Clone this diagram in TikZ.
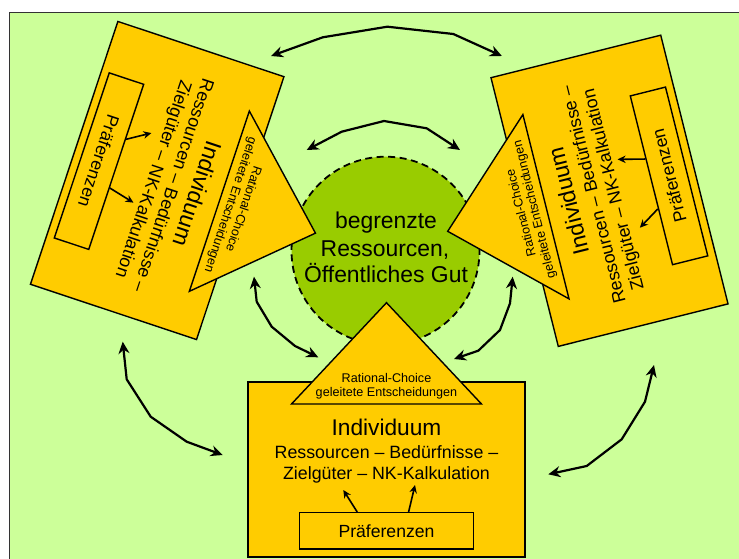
\documentclass[tikz,border=0pt]{standalone}
\usepackage{fontspec}
\setmainfont{Liberation Sans}
\usetikzlibrary{arrows.meta,calc}

\definecolor{bggreen}{HTML}{CCFF99}
\definecolor{unitfill}{HTML}{FFCC00}
\definecolor{resfill}{HTML}{99CC00}
\definecolor{frame}{HTML}{333333}

\tikzset{
  unitbox/.style={draw, fill=unitfill, line width=1.4pt, minimum width=277pt,
    minimum height=175pt, inner sep=0pt},
  unitshape/.style={draw, fill=unitfill, line width=1.4pt, line join=miter},
  prefbox/.style={draw, fill=unitfill, line width=1.4pt, minimum width=174pt,
    minimum height=36.3pt, inner sep=0pt, font=\fontsize{17.6}{20}\selectfont},
  rcfont/.style={inner sep=0pt, font=\fontsize{12.6}{14}\selectfont},
  titlefont/.style={inner sep=0pt, font=\fontsize{22.7}{26}\selectfont},
  bodyfont/.style={inner sep=0pt, font=\fontsize{17.8}{21}\selectfont},
  innerarrow/.style={-{Stealth[length=8pt,width=7.5pt]}, line width=1.6pt},
  linkarrow/.style={{Stealth[length=12pt,width=11pt]}-{Stealth[length=12pt,width=11pt]},
    line width=2.2pt, line join=round},
  resource/.style={circle, draw, fill=resfill, minimum size=188pt, inner sep=0pt,
    line width=1.8pt, dash pattern=on 7pt off 4.5pt},
  restext/.style={inner sep=0pt, font=\fontsize{22.9}{27}\selectfont},
}

% One actor: box with its decision triangle, placed at (#2,#3) and turned by #4
\newcommand\drawunit[4]{%
  \begin{scope}[shift={(#2,#3)}, rotate=#4, transform shape]
    \node[unitbox] (#1-box) at (0,0) {};
    \filldraw[unitshape] (-95,65.5) coordinate (#1-bl) -- (0,166.8) coordinate (#1-apex)
      -- (95,65.5) coordinate (#1-br) -- cycle;
    \node[rcfont, anchor=base] (#1-rc1) at (0,87.2) {Rational-Choice};
    \node[rcfont, anchor=base] (#1-rc2) at (0,73.5) {geleitete Entscheidungen};
    \node[titlefont, anchor=base] (#1-title) at (0,34.5) {Individuum};
    \node[bodyfont, anchor=base] (#1-l1) at (0,11.2) {Ressourcen – Bedürfnisse –};
    \node[bodyfont, anchor=base] (#1-l2) at (0,-9.5) {Zielgüter – NK-Kalkulation};
    \node[prefbox] (#1-pref) at (0,-61.35) {Präferenzen};
    \coordinate (#1-t1) at (-43.2,-20.5);
    \coordinate (#1-t2) at (28.5,-15.5);
    \draw[innerarrow] ($(#1-pref.north west)!0.333!(#1-pref.north east)$) -- (#1-t1);
    \draw[innerarrow] ($(#1-pref.north west)!0.626!(#1-pref.north east)$) -- (#1-t2);
  \end{scope}}

\begin{document}
\begin{tikzpicture}[x=1pt, y=1pt]
  \useasboundingbox (0,0) rectangle (739,558);
  \clip (0,0) rectangle (739,558);
  \fill[white] (0,0) rectangle (739,558);
  \filldraw[fill=bggreen, draw=frame, line width=1pt] (9.5,545.7) rectangle (760,-20);

  % shared resource
  \node[resource] (res) at (385.5,307.3) {};
  \node[restext, anchor=base] (res1) at (386,329.7) {begrenzte};
  \node[restext, anchor=base] (res2) at (385,302) {Ressourcen,};
  \node[restext, anchor=base] (res3) at (386,275.3) {Öffentliches Gut};

  % the three actors
  \drawunit{left}{157.2}{377.5}{-108.4}
  \drawunit{right}{609.5}{367.2}{104.06}
  \drawunit{bottom}{386.5}{88.5}{0}

  % interactions between actors
  \coordinate (a1s) at (271,502);     \coordinate (a1e) at (501.9,502);
  \coordinate (a2s) at (306.7,408);   \coordinate (a2e) at (460,408);
  \coordinate (a3s) at (254,281.3);   \coordinate (a3e) at (318.3,200.7);
  \coordinate (a4s) at (512.7,281.3); \coordinate (a4e) at (454,199);
  \coordinate (a5s) at (122.7,216.3); \coordinate (a5e) at (222.7,103);
  \coordinate (a6s) at (654,193);     \coordinate (a6e) at (548.3,83.7);

  \draw[linkarrow] (a1s) -- (322.8,520.7) -- (387.4,531.3) -- (453.3,524) -- (a1e);
  \draw[linkarrow] (a2s) -- (341.7,426.3) -- (384,437) -- (426.7,429.7) -- (a2e);
  \draw[linkarrow] (a3s) -- (256.7,256.3) -- (271.7,231.3) -- (295,212) -- (a3e);
  \draw[linkarrow] (a4s) -- (510,254.7) -- (500,228) -- (478.3,207.3) -- (a4e);
  \draw[linkarrow] (a5s) -- (126.7,178.7) -- (150.7,141.3) -- (186.7,116.3) -- (a5e);
  \draw[linkarrow] (a6s) -- (645,156.3) -- (621.7,118.7) -- (586.7,92) -- (a6e);
\end{tikzpicture}
\end{document}
